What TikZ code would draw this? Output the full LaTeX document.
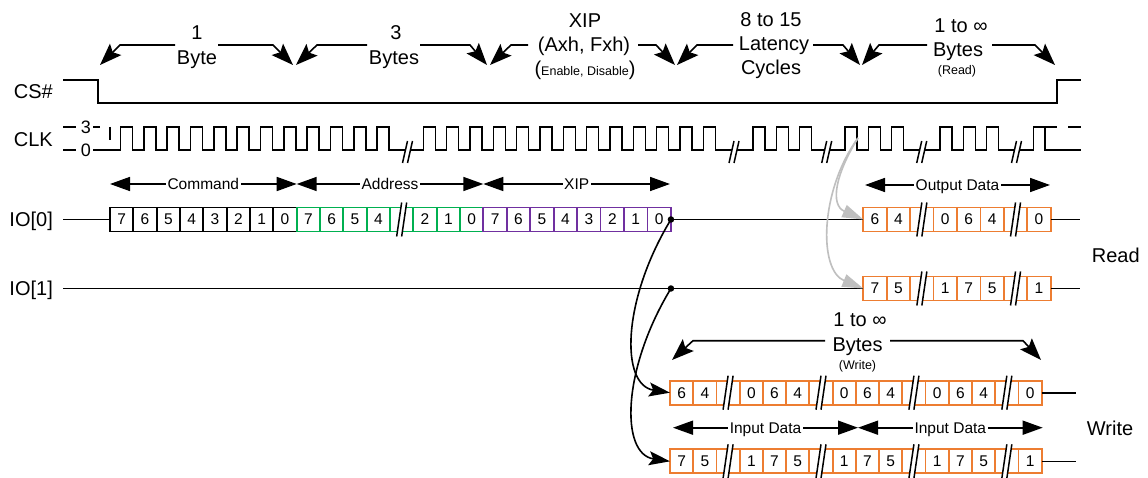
\documentclass[tikz,border=0pt]{standalone}
\usepackage{fontspec}
\setmainfont{Liberation Sans}
\usetikzlibrary{arrows.meta}
\definecolor{cgreen}{RGB}{0,176,80}
\definecolor{cpurple}{RGB}{112,48,160}
\definecolor{corange}{RGB}{237,125,49}
\definecolor{cgray}{RGB}{191,191,191}
\newcommand\myfs[1]{\fontsize{#1}{#1}\selectfont}
\newcommand\brkmark[3]{%
  \fill[white] ({#1-5},{#2+#3}) -- ({#1},{#2-#3}) -- ({#1+5},{#2-#3}) -- ({#1},{#2+#3}) -- cycle;
  \draw[line width=1.5pt] ({#1-5},{#2+#3}) -- ({#1},{#2-#3}) ({#1},{#2+#3}) -- ({#1+5},{#2-#3});}
\newcommand\cellrow[6]{%
  \foreach \t [count=\i from 0] in {#6} {
    \pgfmathsetmacro\xl{#2+\i*#4}
    \if b\t
      \coordinate (#1-\i) at ({\xl+#4/2},{#3});
      \draw[draw=#5, line width=1.8pt] ({\xl},{#3-12}) -- ++(#4,0) ({\xl},{#3+12}) -- ++(#4,0);
      \brkmark{\xl+#4/2}{#3}{17}
    \else
      \node[cell, minimum width={#4pt}] (#1-\i) at ({\xl},{#3}) {\t};
      \draw[draw=#5, line width=1.8pt] (#1-\i.south west) rectangle (#1-\i.north east);
    \fi
  }}
\newcommand\harrow[6]{%
  \coordinate (#1s) at (#2,#5); \coordinate (#1b) at (#3,#5); \coordinate (#1t) at (#4,#6);
  \draw[hdr] (#1s) -- (#1b) -- (#1t);}
\begin{document}
\begin{tikzpicture}[x=1pt,y=-1pt,
  wave/.style={line width=1.6pt, line join=miter},
  cell/.style={minimum height=24pt, inner sep=0pt, outer sep=0pt, anchor=west, font=\myfs{15.5}},
  hdr/.style={line width=1.6pt, -{Stealth[length=22pt,width=16pt,inset=4pt]}},
  dbl/.style={line width=1.6pt, {Triangle[length=20pt,width=14pt]}-{Triangle[length=20pt,width=14pt]}},
  lbl/.style={fill=white, inner xsep=1.5pt, inner ysep=0pt, font=\myfs{15.5}, anchor=base},
  big/.style={font=\myfs{20}, anchor=base, inner sep=0pt},
  small/.style={font=\myfs{12.5}, anchor=base, inner sep=0pt},
  side/.style={font=\myfs{20}, inner sep=0pt},
  curv/.style={line width=1.6pt, -{Stealth[length=21pt,width=14pt,inset=4pt]}},
  gcurv/.style={line width=1.6pt, cgray, -{Triangle[length=21pt,width=13pt]}},
  dot/.style={circle, fill, inner sep=0pt, minimum size=6.5pt}]
\useasboundingbox (0,0) rectangle (1148,478);
\fill[white] (0,0) rectangle (1148,478);

% side labels
\node[side, anchor=base east] (cs) at (53,98.3) {CS\#};
\node[side, anchor=base east] (clk) at (53,146.7) {CLK};
\node[side, anchor=base east] (io0) at (53,226.5) {IO[0]};
\node[side, anchor=base east] (io1) at (53,295.5) {IO[1]};
\node[side, anchor=base west] (read) at (1091.7,262.7) {Read};
\node[side, anchor=base west] (write) at (1086.7,435) {Write};

% header texts
\node[big] (t1a) at (197,40) {1};
\node[big] (t1b) at (197,65) {Byte};
\node[big] (t2a) at (396,40) {3};
\node[big] (t2b) at (394,65) {Bytes};
\node[big] (t3a) at (585,28) {XIP};
\node[big] (t3b) at (584,52) {(Axh, Fxh)};
\node[big] (t3c) at (585,76) {({\myfs{12.5}Enable, Disable})};
\node[big] (t4a) at (771,27) {8 to 15};
\node[big] (t4b) at (774,51) {Latency};
\node[big] (t4c) at (771,75) {Cycles};
\node[big] (t5a) at (961,33) {1 to ∞};
\node[big] (t5b) at (958,57) {Bytes};
\node[small] (t5c) at (957,75) {(Read)};
\node[big] (t6a) at (860,326.7) {1 to ∞};
\node[big] (t6b) at (857.5,351.7) {Bytes};
\node[small] (t6c) at (857.5,369) {(Write)};

% header arrows
\harrow{ha}{175}{120}{100}{45}{65}
\harrow{hb}{218}{273}{293}{45}{65}
\harrow{hc}{367}{317}{296}{45}{65}
\harrow{hd}{420}{470}{487}{45}{65}
\harrow{he}{528}{511}{490}{45}{65}
\harrow{hf}{638}{656}{675}{45}{65}
\harrow{hg}{733}{697}{677}{45}{65}
\harrow{hh}{813}{843}{860}{45}{65}
\harrow{hi}{927}{879}{862}{45}{65}
\harrow{hj}{992}{1035}{1055}{45}{65}
\harrow{hk}{825}{693}{672}{340.7}{360}
\harrow{hl}{890}{1023}{1041}{340.7}{360}

% CS#
\draw[wave] (63,80) -- (98,80) -- (98,103) -- (1057,103) -- (1057,80) -- (1081,80);

% CLK
\node[font=\myfs{18}, inner sep=0pt] (clk3) at (86,127) {3};
\node[font=\myfs{18}, inner sep=0pt] (clk0) at (86,150) {0};
\draw[wave] (63,127) -- (76,127) (93,127) -- (100,127) (110,127) -- (110,140) (63,150) -- (76,150);
\draw[wave] (93,150) foreach \r in {120.5,143.83,167.17,190.5,213.83,237.17,260.5,283.83,307.17,330.5,353.83,377.17,
  423.33,446.67,470,493.33,516.67,540,563.33,586.67,610,633.33,656.67,680,703.33,
  753,776.33,799.67,845,868.33,891.67,940,963.33,986.67}
  { -- (\r,150) -- (\r,127) -- ({\r+12},127) -- ({\r+12},150) }
  -- (1033.33,150) -- (1033.33,127) -- (1045,127) -- (1045,150) -- (1081,150);
\draw[wave] (1045,127) -- (1057,127) (1068,127) -- (1081,127);
\brkmark{407.5}{152}{11}
\brkmark{734}{152}{11}
\brkmark{826.7}{152}{11}
\brkmark{921.7}{152}{11}
\brkmark{1016.5}{152}{11}

% wires
\coordinate (io0s) at (63,219.5);
\coordinate (io1s) at (63,288.5);
\coordinate (io0e) at (1080,219.5);
\coordinate (io1e) at (1080,288.5);
\coordinate (w0e) at (1076,392.7);
\coordinate (w1e) at (1076,461.3);

% cells
\cellrow{a}{110}{219.5}{23.33}{black}{7,6,5,4,3,2,1,0}
\cellrow{b}{296.67}{219.5}{23.33}{cgreen}{7,6,5,4,b,2,1,0}
\cellrow{x}{483.33}{219.5}{23.45}{cpurple}{7,6,5,4,3,2,1,0}
\cellrow{r0}{863.3}{219.5}{23.42}{corange}{6,4,b,0,6,4,b,0}
\cellrow{r1}{863.3}{288.5}{23.42}{corange}{7,5,b,1,7,5,b,1}
\cellrow{w0}{670}{392.7}{23.23}{corange}{6,4,b,0,6,4,b,0,6,4,b,0,6,4,b,0}
\cellrow{w1}{670}{461.3}{23.23}{corange}{7,5,b,1,7,5,b,1,7,5,b,1,7,5,b,1}

\draw[wave] (io0s) -- (a-0.west);
\draw[wave] (x-7.east) -- (r0-0.west);
\draw[wave] (r0-7.east) -- (io0e);
\draw[wave] (io1s) -- (r1-0.west);
\draw[wave] (r1-7.east) -- (io1e);
\draw[wave] (w0-15.east) -- (w0e);
\draw[wave] (w1-15.east) -- (w1e);

\node[dot] (d0) at (x-7.east) {};
\node[dot] (d1) at (x-7.east |- io1s) {};

% group arrows
\coordinate (cmdL) at (110,184); \coordinate (cmdR) at (296.7,184);
\coordinate (adrR) at (483.3,184); \coordinate (xipR) at (670,184);
\coordinate (outL) at (865,185); \coordinate (outR) at (1050,185);
\coordinate (inL) at (673,427.7); \coordinate (inM) at (858,427.7); \coordinate (inR) at (1042.7,427.7);
\draw[dbl] (cmdL) -- (cmdR);
\draw[dbl] (cmdR) -- (adrR);
\draw[dbl] (adrR) -- (xipR);
\draw[dbl] (outL) -- (outR);
\draw[dbl] (inL) -- (inM);
\draw[dbl] (inM) -- (inR);
\node[lbl] (lcmd) at (203.3,189.5) {Command};
\node[lbl] (ladr) at (390,189.5) {Address};
\node[lbl] (lxip) at (576.7,189.5) {XIP};
\node[lbl] (lout) at (957.5,190.5) {Output Data};
\node[lbl] (lin1) at (765.5,433) {Input Data};
\node[lbl] (lin2) at (950.3,433) {Input Data};

% curves
\draw[curv] (d0.center) .. controls (622,300) and (620,385) .. (w0-0.west);
\draw[curv] (d1.center) .. controls (622,369) and (620,454) .. (w1-0.west);
\coordinate (g) at (858,138);
\draw[gcurv] (g) .. controls (835,175) and (830,205) .. (r0-0.west);
\draw[gcurv] (g) .. controls (820,190) and (818,270) .. (r1-0.west);
\end{tikzpicture}
\end{document}
